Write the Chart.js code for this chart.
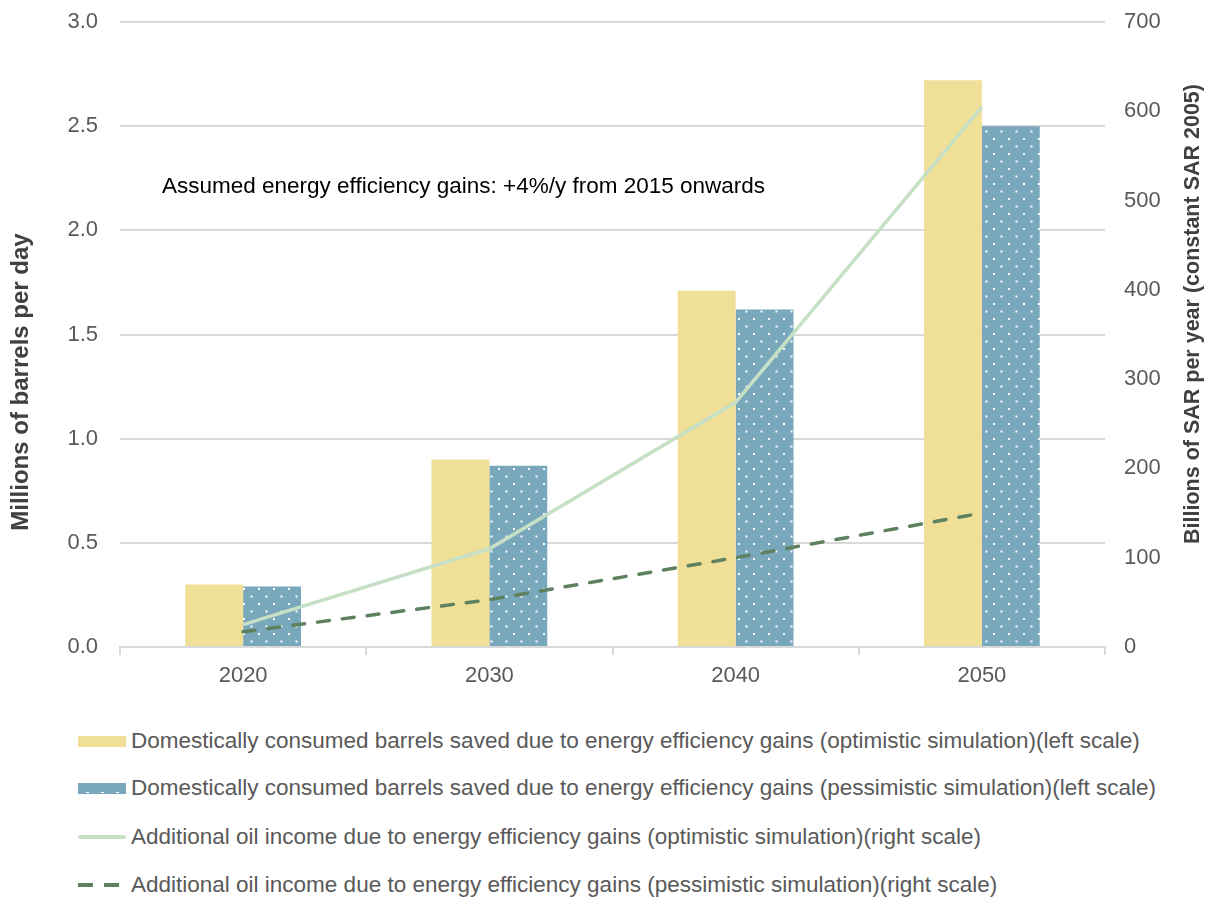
<!DOCTYPE html>
<html>
<head>
<meta charset="utf-8">
<script src="https://cdn.jsdelivr.net/npm/chart.js@4"></script>
<style>
  body { margin: 0; background: #fff; font-family: "Liberation Sans", Arial, sans-serif; }
  #wrap { position: relative; width: 1208px; height: 900px; }
  #chart { position: absolute; left: 0; top: 0; }
  #legend { position: absolute; left: 78px; top: 726px; }
  .item { position: absolute; left: 0; height: 30px; display: flex; align-items: center; white-space: nowrap;
          font-size: 22.5px; color: #595959; }
  .sw { width: 48px; margin-right: 5px; }
</style>
</head>
<body>
<div id="wrap">
  <canvas id="chart" width="1208" height="700"></canvas>
  <div id="legend"></div>
</div>
<script>
const years = ['2020', '2030', '2040', '2050'];
const barrelsOptimistic = [0.30, 0.90, 1.71, 2.72];
const barrelsPessimistic = [0.29, 0.87, 1.62, 2.50];
const incomeOptimistic = [25, 110, 274, 605];
const incomePessimistic = [17, 53, 100, 150];

const leftTitle = 'Millions of barrels per day';
const rightTitle = 'Billions of SAR per year (constant SAR 2005)';
const note = 'Assumed energy efficiency gains: +4%/y from 2015 onwards';

const seriesNames = [
    'Domestically consumed barrels saved due to energy efficiency gains (optimistic simulation)(left scale)',
    'Domestically consumed barrels saved due to energy efficiency gains (pessimistic simulation)(left scale)',
    'Additional oil income due to energy efficiency gains (optimistic simulation)(right scale)',
    'Additional oil income due to energy efficiency gains (pessimistic simulation)(right scale)',
];

const YELLOW = '#f0df96';
const BLUE = '#79a8bd';
const LIGHT_GREEN = '#c6e0c6';
const DARK_GREEN = '#5e8160';
const GRID = '#d9d9d9';
const TEXT = '#595959';
const FONT = '"Liberation Sans", Arial, sans-serif';

// blue fill with a staggered grid of small white dots
function dotPattern() {
    const c = document.createElement('canvas');
    c.width = 15;
    c.height = 15;
    const g = c.getContext('2d');
    g.fillStyle = BLUE;
    g.fillRect(0, 0, 15, 15);
    g.fillStyle = '#ffffff';
    g.fillRect(3, 3, 2, 2);
    g.fillRect(10.5, 10.5, 2, 2);
    return g.createPattern(c, 'repeat');
}

const ctx = document.getElementById('chart').getContext('2d');
const pattern = dotPattern();

// note inside the plot area and the two rotated axis titles
const textPlugin = {
    id: 'texts',
    afterDraw(chart) {
        const c = chart.ctx;
        c.save();
        c.font = '22.5px ' + FONT;
        c.fillStyle = '#000';
        c.textBaseline = 'middle';
        c.fillText(note, 162, 187);

        c.fillStyle = '#404040';
        c.textAlign = 'center';
        c.font = 'bold 24px ' + FONT;
        c.translate(21, 382);
        c.rotate(-Math.PI / 2);
        c.fillText(leftTitle, 0, 0);
        c.setTransform(1, 0, 0, 1, 0, 0);

        c.font = 'bold 21.5px ' + FONT;
        c.translate(1193, 314);
        c.rotate(-Math.PI / 2);
        c.fillText(rightTitle, 0, 0);
        c.restore();
    }
};

const tickFont = { family: FONT, size: 22 };

// keep tick label overflow from pushing the plot area down
function noOverflow(scale) {
    scale.paddingTop = 0;
    scale.paddingBottom = 0;
}

new Chart(ctx, {
    data: {
        labels: years,
        datasets: [
            {
                type: 'line',
                label: seriesNames[2],
                data: incomeOptimistic,
                yAxisID: 'right',
                borderColor: LIGHT_GREEN,
                borderWidth: 3.5,
                pointRadius: 0,
                tension: 0,
                order: 1,
            },
            {
                type: 'line',
                label: seriesNames[3],
                data: incomePessimistic,
                yAxisID: 'right',
                borderColor: DARK_GREEN,
                borderWidth: 3.5,
                borderDash: [12, 13],
                borderCapStyle: 'round',
                pointRadius: 0,
                tension: 0,
                order: 0,
            },
            {
                type: 'bar',
                label: seriesNames[0],
                data: barrelsOptimistic,
                yAxisID: 'left',
                backgroundColor: YELLOW,
                barPercentage: 1,
                categoryPercentage: 0.47,
                order: 2,
            },
            {
                type: 'bar',
                label: seriesNames[1],
                data: barrelsPessimistic,
                yAxisID: 'left',
                backgroundColor: pattern,
                barPercentage: 1,
                categoryPercentage: 0.47,
                order: 2,
            },
        ],
    },
    options: {
        responsive: false,
        animation: false,
        layout: { padding: { top: 22, left: 0, right: 0, bottom: 0 } },
        plugins: {
            legend: { display: false },
            tooltip: { enabled: false },
        },
        scales: {
            x: {
                offset: true,
                grid: { offset: true, drawOnChartArea: false, color: GRID, lineWidth: 2, tickLength: 8 },
                border: { color: GRID, width: 2 },
                ticks: { color: TEXT, font: tickFont, padding: 8 },
                afterFit(scale) { scale.height = 53; },
            },
            left: {
                position: 'left',
                min: 0,
                max: 3,
                ticks: { stepSize: 0.5, color: TEXT, font: tickFont, padding: 22, callback: v => v.toFixed(1) },
                grid: { color: GRID, lineWidth: 2, drawTicks: false },
                border: { display: false },
                afterFit(scale) { scale.width = 120; noOverflow(scale); },
            },
            right: {
                position: 'right',
                min: 0,
                max: 700,
                ticks: { stepSize: 100, color: TEXT, font: tickFont, padding: 19 },
                grid: { drawOnChartArea: false, drawTicks: false },
                border: { display: false },
                afterFit(scale) { scale.width = 103; noOverflow(scale); },
            },
        },
    },
    plugins: [textPlugin],
});

// legend rows with drawn swatches
const legend = document.getElementById('legend');
const swatches = [
    `<div class="sw" style="height:11px;background:${YELLOW}"></div>`,
    `<div class="sw" style="height:11px;background-color:${BLUE};background-image:radial-gradient(#fff 1px, transparent 1.2px);background-size:15px 11px;background-position:2px 4px"></div>`,
    `<div class="sw" style="height:4px;border-radius:2px;background:${LIGHT_GREEN}"></div>`,
    `<div class="sw" style="height:4px;background:repeating-linear-gradient(90deg, ${DARK_GREEN} 0 15px, transparent 15px 26px)"></div>`,
];
const rowTops = [0, 47, 96, 144];
seriesNames.forEach((name, i) => {
    const row = document.createElement('div');
    row.className = 'item';
    row.style.top = rowTops[i] + 'px';
    row.innerHTML = swatches[i] + '<span>' + name + '</span>';
    legend.appendChild(row);
});
</script>
</body>
</html>
